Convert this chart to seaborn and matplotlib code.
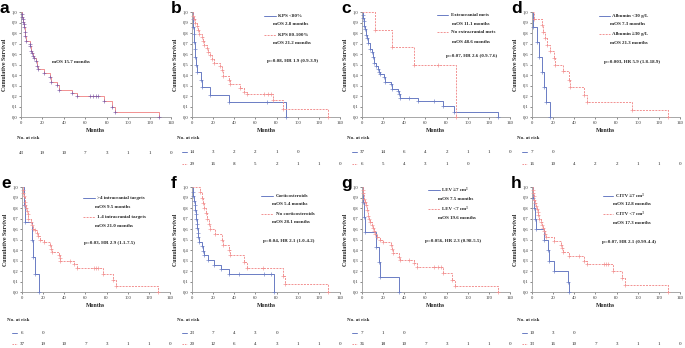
import numpy as np
import pandas as pd
import matplotlib
matplotlib.use('Agg')
import matplotlib.pyplot as plt
import seaborn as sns

# ---- data ----
months_ticks = [0, 20, 40, 60, 80, 100, 120, 140]

a_t = [0.5, 1, 1.5, 2, 2.5, 3, 3.5, 4, 5, 8, 8.5, 9, 10, 11, 12, 14, 15, 16, 21, 27, 28, 34, 35, 48, 52, 77, 85, 88, 129]
a_s = [0.977, 0.953, 0.930, 0.907, 0.884, 0.860, 0.814, 0.767, 0.721, 0.698, 0.674, 0.628, 0.605, 0.581, 0.558,
       0.535, 0.488, 0.453, 0.418, 0.383, 0.336, 0.302, 0.258, 0.225, 0.197, 0.148, 0.099, 0.049, 0.0]
a_c = [64, 67, 70, 72]
a_risk = [43, 19, 10, 7, 3, 1, 1, 0]

b1_t = [0.5, 1, 1.5, 2, 2.5, 3, 3.5, 5, 8.5, 9, 17, 35, 89]
b1_s = [0.929, 0.857, 0.786, 0.714, 0.643, 0.571, 0.5, 0.429, 0.357, 0.286, 0.214, 0.143, 0.0]
b1_c = [71]
b2_t = [1, 2, 3, 4.5, 6, 7, 9, 10.5, 11.5, 14, 15.5, 17, 18.5, 21, 26.5, 28, 29, 35, 36, 45, 49, 52, 77, 86, 129]
b2_s = [0.966, 0.931, 0.897, 0.862, 0.828, 0.793, 0.759, 0.724, 0.690, 0.655, 0.621, 0.586, 0.552, 0.517, 0.483,
        0.448, 0.392, 0.357, 0.310, 0.276, 0.241, 0.220, 0.160, 0.080, 0.0]
b2_c = [68, 72, 75]
b_risk1 = [14, 3, 2, 2, 1, 0]
b_risk2 = [29, 16, 8, 5, 2, 1, 1, 0]

c1_t = [0.5, 1, 1.5, 2, 3, 4, 5, 6, 8, 9, 10, 11, 13, 15, 16, 17, 21, 22, 27, 28, 34, 35, 36, 53, 77, 87, 129]
c1_s = [0.973, 0.946, 0.919, 0.865, 0.838, 0.784, 0.757, 0.703, 0.649, 0.622, 0.568, 0.514, 0.486, 0.459, 0.432,
        0.405, 0.378, 0.338, 0.311, 0.270, 0.243, 0.216, 0.182, 0.156, 0.104, 0.052, 0.0]
c1_c = [44, 68]
c2_t = [12, 28, 49, 89]
c2_s = [0.833, 0.667, 0.5, 0.0]
c2_c = [72]
c_risk1 = [37, 14, 6, 4, 2, 1, 1, 0]
c_risk2 = [6, 5, 4, 3, 1, 0]

d1_t = [1, 5, 7, 9, 11, 13, 17]
d1_s = [0.857, 0.714, 0.571, 0.429, 0.286, 0.143, 0.0]
d1_c = []
d2_t = [2, 9, 10.5, 12, 14, 17, 21, 22, 29, 35, 36, 49, 52, 95, 129]
d2_s = [0.9375, 0.875, 0.8125, 0.75, 0.6875, 0.625, 0.5625, 0.5, 0.4375, 0.357, 0.286, 0.214, 0.143, 0.071, 0.0]
d2_c = []
d_risk1 = [7, 0]
d_risk2 = [16, 10, 4, 2, 2, 1, 1, 0]

e1_t = [2, 3, 9.8, 10.7, 12, 16.4]
e1_s = [0.833, 0.667, 0.5, 0.333, 0.167, 0.0]
e1_c = []
e2_t = [0.5, 1, 2, 2.5, 3, 4, 4.5, 5.5, 6, 8.5, 9, 10, 12, 14, 15, 17, 21, 26.5, 27, 28, 35, 35.5, 36, 49, 52, 77, 86, 89, 129]
e2_s = [0.97, 0.94, 0.91, 0.86, 0.83, 0.80, 0.77, 0.74, 0.70, 0.67, 0.64, 0.60, 0.59, 0.56, 0.53, 0.50, 0.48,
        0.45, 0.41, 0.38, 0.35, 0.32, 0.30, 0.27, 0.23, 0.17, 0.11, 0.06, 0.0]
e2_c = [45, 68, 70, 72]
e_risk1 = [6, 0]
e_risk2 = [37, 19, 10, 7, 3, 1, 1, 0]

f1_t = [0.5, 1, 1.5, 2.5, 3, 3.5, 4, 4.5, 5, 5.5, 6, 7, 9, 10, 11, 15, 21, 27, 35, 78]
f1_s = [0.957, 0.913, 0.870, 0.826, 0.783, 0.739, 0.696, 0.652, 0.609, 0.565, 0.522, 0.478, 0.435, 0.391, 0.348,
        0.304, 0.261, 0.217, 0.174, 0.0]
f1_c = [44, 68, 75]
f2_t = [8, 9, 10, 11, 13, 14, 16, 17, 22, 28, 29, 35, 36, 49, 52, 86, 88, 129]
f2_s = [0.95, 0.90, 0.85, 0.80, 0.75, 0.70, 0.65, 0.60, 0.55, 0.50, 0.45, 0.40, 0.35, 0.29, 0.23, 0.15, 0.08, 0.0]
f2_c = [67]
f_risk1 = [23, 7, 4, 3, 0]
f_risk2 = [20, 12, 6, 4, 3, 1, 1, 0]

g1_t = [1, 2, 3, 13, 16, 17, 35]
g1_s = [0.857, 0.714, 0.571, 0.429, 0.286, 0.143, 0.0]
g1_c = []
g2_t = [0.5, 1, 2, 3, 4, 5, 6, 7, 8, 9, 10, 11, 12, 14, 17, 20, 27, 28, 29, 35, 36, 49, 52, 77, 85, 88, 129]
g2_s = [0.972, 0.944, 0.889, 0.861, 0.833, 0.778, 0.722, 0.694, 0.667, 0.639, 0.611, 0.583, 0.556, 0.528, 0.5,
        0.472, 0.444, 0.405, 0.370, 0.335, 0.306, 0.272, 0.238, 0.178, 0.119, 0.059, 0.0]
g2_c = [44, 68, 72, 75]
g_risk1 = [7, 1, 0]
g_risk2 = [36, 18, 10, 7, 3, 1, 1, 0]

h1_t = [1.3, 2, 3, 4, 11, 15.5, 16, 21, 34, 35]
h1_s = [0.9, 0.8, 0.7, 0.6, 0.5, 0.4, 0.3, 0.2, 0.1, 0.0]
h1_c = []
h2_t = [0.5, 1, 1.5, 2, 3, 4, 4.5, 5.5, 6, 7, 8.5, 9, 10, 11, 12, 13, 21, 27, 28, 29, 35, 49, 52, 77, 85, 88, 129]
h2_s = [0.97, 0.94, 0.91, 0.88, 0.85, 0.82, 0.79, 0.76, 0.73, 0.70, 0.67, 0.64, 0.61, 0.58, 0.55, 0.52, 0.485,
        0.45, 0.415, 0.38, 0.34, 0.30, 0.265, 0.20, 0.13, 0.066, 0.0]
h2_c = [44, 68, 70, 72]
h_risk1 = [10, 3, 0]
h_risk2 = [33, 16, 10, 7, 3, 1, 1, 0]

# ---- style ----
W, H = 685, 348
BLUE = '#6a7cc4'
RED = '#f29191'
PURPLE = '#7d5ba6'
SERIF = ['Liberation Serif', 'DejaVu Serif']
SANS = ['Liberation Sans', 'DejaVu Sans']
FS = 3.6

sns.set_theme(style='ticks')
plt.rcParams['font.family'] = SERIF

fig = plt.figure(figsize=(W / 100, H / 100), dpi=100)
fig.patch.set_facecolor('white')


def fx(px):
    return px / W


def fy(py):
    return 1 - py / H


def draw_curve(ax, t, s, cens, color, ls, mcolor):
    tt = [0] + list(t)
    ss = [1.0] + list(s)
    if cens and max(cens) > tt[-1]:
        tt.append(max(cens))
        ss.append(ss[-1])
    df = pd.DataFrame({'t': tt, 's': ss})
    sns.lineplot(data=df, x='t', y='s', drawstyle='steps-post', color=color, lw=0.7,
                 linestyle=ls, ax=ax, estimator=None, sort=False)
    mx = list(t)
    my = list(s)
    for c in cens:
        k = np.searchsorted(np.array(tt), c, side='right') - 1
        mx.append(c)
        my.append(ss[k])
    sns.scatterplot(x=mx, y=my, marker='+', s=7, color=mcolor, linewidth=0.45, ax=ax,
                    zorder=3, clip_on=False)


panels = [
    dict(letter='a', box=(21, 171, 12, 117), curves=[(a_t, a_s, a_c, RED, '-', PURPLE)],
         risks=[(a_risk, None)], legend=None, mos_a=(29, 0.52, 'mOS 15.7 months')),
    dict(letter='b', box=(192, 340, 12, 117),
         curves=[(b1_t, b1_s, b1_c, BLUE, '-', BLUE), (b2_t, b2_s, b2_c, RED, (0, (2, 1.2)), RED)],
         risks=[(b_risk1, 'b'), (b_risk2, 'r')],
         legend=dict(lx=(68, 79), tx=81, mx=77, ys=(0.96, 0.886, 0.78, 0.705),
                     labels=('KPS <80%', 'mOS 2.8 months', 'KPS 80-100%', 'mOS 21.2 months'),
                     p=(95.5, 0.533, 'p=0.08, HR 1.9 (0.9-3.9)'))),
    dict(letter='c', box=(362, 510, 12, 117),
         curves=[(c1_t, c1_s, c1_c, BLUE, '-', BLUE), (c2_t, c2_s, c2_c, RED, (0, (2, 1.2)), RED)],
         risks=[(c_risk1, 'b'), (c_risk2, 'r')],
         legend=dict(lx=(71, 81), tx=84, mx=85, ys=(0.97, 0.886, 0.81, 0.714),
                     labels=('Extracranial mets', 'mOS 11.1 months', 'No extracranial mets', 'mOS 48.6 months'),
                     p=(104, 0.58, 'p=0.07, HR 2.6 (0.9-7.6)'))),
    dict(letter='d', box=(532, 680, 12, 117),
         curves=[(d1_t, d1_s, d1_c, BLUE, '-', BLUE), (d2_t, d2_s, d2_c, RED, (0, (2, 1.2)), RED)],
         risks=[(d_risk1, 'b'), (d_risk2, 'r')],
         legend=dict(lx=(63, 74), tx=76, mx=74, ys=(0.96, 0.886, 0.79, 0.705),
                     labels=('Albumin <30 g/L', 'mOS 7.3 months', 'Albumin \u226530 g/L', 'mOS 21.3 months'),
                     p=(95, 0.52, 'p=0.003, HR 5.9 (1.8-18.9)'))),
    dict(letter='e', box=(22, 170, 187, 292),
         curves=[(e1_t, e1_s, e1_c, BLUE, '-', BLUE), (e2_t, e2_s, e2_c, RED, (0, (2, 1.2)), RED)],
         risks=[(e_risk1, 'b'), (e_risk2, 'r')],
         legend=dict(lx=(58, 69), tx=71, mx=69, ys=(0.895, 0.81, 0.714, 0.63),
                     labels=('>4 intracranial targets', 'mOS 9.5 months', '1-4 intracranial targets',
                             'mOS 21.0 months'),
                     p=(83, 0.467, 'p=0.03, HR 2.9 (1.1-7.5)'))),
    dict(letter='f', box=(192, 340, 187, 292),
         curves=[(f1_t, f1_s, f1_c, BLUE, '-', BLUE), (f2_t, f2_s, f2_c, RED, (0, (2, 1.2)), RED)],
         risks=[(f_risk1, 'b'), (f_risk2, 'r')],
         legend=dict(lx=(65, 77), tx=79.5, mx=76, ys=(0.914, 0.838, 0.743, 0.667),
                     labels=('Corticosteroids', 'mOS 5.4 months', 'No corticosteroids', 'mOS 28.1 months'),
                     p=(91, 0.486, 'p=0.04, HR 2.1 (1.0-4.2)'))),
    dict(letter='g', box=(362, 510, 187, 292),
         curves=[(g1_t, g1_s, g1_c, BLUE, '-', BLUE), (g2_t, g2_s, g2_c, RED, (0, (2, 1.2)), RED)],
         risks=[(g_risk1, 'b'), (g_risk2, 'r')],
         legend=dict(lx=(62, 74), tx=76, mx=72, ys=(0.97, 0.886, 0.79, 0.705),
                     labels=('LEV \u22657 cm\u00b3', 'mOS 7.5 months', 'LEV <7 cm\u00b3', 'mOS 19.6 months'),
                     p=(86, 0.486, 'p=0.056, HR 2.3 (0.98-5.5)'))),
    dict(letter='h', box=(532, 680, 187, 292),
         curves=[(h1_t, h1_s, h1_c, BLUE, '-', BLUE), (h2_t, h2_s, h2_c, RED, (0, (2, 1.2)), RED)],
         risks=[(h_risk1, 'b'), (h_risk2, 'r')],
         legend=dict(lx=(67, 77), tx=79.5, mx=76.6, ys=(0.914, 0.838, 0.743, 0.657),
                     labels=('CITV \u22657 cm\u00b3', 'mOS 12.8 months', 'CITV <7 cm\u00b3', 'mOS 17.3 months'),
                     p=(92, 0.476, 'p=0.07, HR 2.1 (0.99-4.4)'))),
]

for p in panels:
    L, R, T, B = p['box']
    ax = fig.add_axes([fx(L), fy(B), (R - L) / W, (B - T) / H])
    ax.set_facecolor('white')
    for c in p['curves']:
        draw_curve(ax, *c)
    ax.set_xlim(0, 140)
    ax.set_ylim(0, 1.0)
    ax.set_xticks(months_ticks)
    ax.set_xticklabels([str(v) for v in months_ticks], fontsize=3.3)
    yt = np.round(np.arange(0, 1.01, 0.1), 1)
    ax.set_yticks(yt)
    ax.set_yticklabels([f'{v:.1f}'.replace('.', ',') for v in yt], fontsize=3.3)
    ax.tick_params(length=1.5, width=0.4, pad=1.2, colors='#333333')
    for sp in ['top', 'right']:
        ax.spines[sp].set_visible(False)
    for sp in ['left', 'bottom']:
        ax.spines[sp].set_color('#999999')
        ax.spines[sp].set_linewidth(0.6)
    ax.set_xlabel('Months', fontsize=4.2, fontweight='bold', labelpad=2.5)
    ax.set_ylabel('Cumulative Survival', fontsize=4.2, fontweight='bold', labelpad=3)

    # panel letter
    lx = L - 21 if p['letter'] in 'ae' else L - 21
    fig.text(fx(lx), fy(T + 1), p['letter'], fontsize=12.5, fontweight='bold', family=SANS,
             ha='left', va='baseline', color='black')

    if p.get('mos_a'):
        x0, y0, txt = p['mos_a']
        ax.text(x0, y0, txt, fontsize=FS, fontweight='bold', ha='left', va='center')

    lg = p['legend']
    if lg:
        y1, y2, y3, y4 = lg['ys']
        ax.plot(lg['lx'], [y1, y1], color=BLUE, lw=0.7, clip_on=False)
        ax.plot(lg['lx'], [y3, y3], color=RED, lw=0.7, ls=(0, (2, 1.2)), clip_on=False)
        ax.text(lg['tx'], y1, lg['labels'][0], fontsize=FS, fontweight='bold', ha='left', va='center')
        ax.text(lg['mx'], y2, lg['labels'][1], fontsize=FS, fontweight='bold', ha='left', va='center')
        ax.text(lg['tx'], y3, lg['labels'][2], fontsize=FS, fontweight='bold', ha='left', va='center')
        ax.text(lg['mx'], y4, lg['labels'][3], fontsize=FS, fontweight='bold', ha='left', va='center')
        px_, py_, ptxt = lg['p']
        ax.text(px_, py_, ptxt, fontsize=FS, fontweight='bold', ha='center', va='center')

    # number at risk table
    top = T < 100
    y_nar = 138 if top else 320
    rows_y = [153] if p['letter'] == 'a' else ([152, 164] if top else [333, 344])
    nar_x = L - 4 if p['letter'] == 'a' else L - 15
    fig.text(fx(nar_x), fy(y_nar), 'No. at risk', fontsize=FS, fontweight='bold', ha='left', va='center')
    for (vals, col), ry in zip(p['risks'], rows_y):
        if col is not None:
            color = BLUE if col == 'b' else RED
            ls = '-' if col == 'b' else (0, (1.5, 1))
            fig.add_artist(plt.Line2D([fx(L - 10), fx(L - 5)], [fy(ry), fy(ry)], color=color, lw=0.7,
                                      ls=ls))
        for i, v in enumerate(vals):
            xpx = L + months_ticks[i] / 140 * (R - L)
            fig.text(fx(xpx), fy(ry), str(v), fontsize=FS, ha='center', va='center', color='#222222')

fig.savefig('out.png', dpi=100, facecolor='white')
